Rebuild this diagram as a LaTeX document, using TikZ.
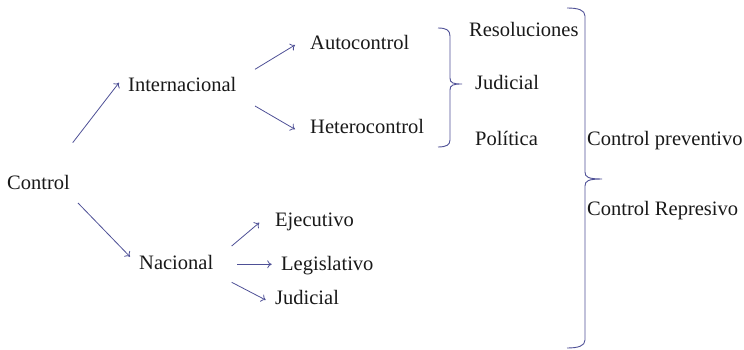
\documentclass[tikz,border=0pt]{standalone}
\usepackage{fontspec}
\usetikzlibrary{arrows.meta}
\setmainfont{Liberation Serif}
\begin{document}
\begin{tikzpicture}[x=1pt,y=-1pt,
  lbl/.style={anchor=base west,inner sep=0pt,font=\fontsize{20.5}{24}\selectfont,text=black!90},
  arr/.style={-{To[length=4.5pt,width=8pt]},draw=ink,line width=0.8pt},
  brc/.style={draw=ink,line width=0.9pt}]
\definecolor{ink}{RGB}{78,80,150}
\useasboundingbox (0,0) rectangle (744,350);
\node[lbl] (ctrl) at (7,189) {Control};
\node[lbl] (int) at (128,92) {Internacional};
\node[lbl] (auto) at (310,50) {Autocontrol};
\node[lbl] (het) at (310,134) {Heterocontrol};
\node[lbl] (res) at (469,37) {Resoluciones};
\node[lbl] (jud1) at (475,90) {Judicial};
\node[lbl] (pol) at (475,146) {Política};
\node[lbl] (cprev) at (587,146) {Control preventivo};
\node[lbl] (nac) at (139,269) {Nacional};
\node[lbl] (eje) at (275,226) {Ejecutivo};
\node[lbl] (leg) at (281,270) {Legislativo};
\node[lbl] (jud2) at (275,304) {Judicial};
\node[lbl] (crep) at (587,215) {Control Represivo};
% arrows
\draw[arr] ([shift={(65.7,-46.3)}]ctrl.base west) -- ([shift={(-9,-9.3)}]int.base west);
\draw[arr] ([shift={(71,14)}]ctrl.base west) -- ([shift={(-9,-12.3)}]nac.base west);
\draw[arr] ([shift={(127,-22.7)}]int.base west) -- ([shift={(-15,-5)}]auto.base west);
\draw[arr] ([shift={(127,14)}]int.base west) -- ([shift={(-15,-4.7)}]het.base west);
\draw[arr] ([shift={(92.7,-23)}]nac.base west) -- ([shift={(-15.7,-3.3)}]eje.base west);
\draw[arr] ([shift={(98,-4.7)}]nac.base west) -- ([shift={(-9.3,-5.7)}]leg.base west);
\draw[arr] ([shift={(92.7,13.3)}]nac.base west) -- ([shift={(-9.3,-4)}]jud2.base west);
% brace 1
\draw[brc] (438,28) .. controls (446,28) and (450,30) .. (450,36) -- (450,78)
  .. controls (450,83) and (453,84) .. (462,84)
  .. controls (453,84) and (450,85) .. (450,90) -- (450,140)
  .. controls (450,145) and (446,147) .. (438,147);
% brace 2
\draw[brc] (567,8) .. controls (578,8) and (585,10) .. (585,16) -- (585,172)
  .. controls (585,177) and (588,179) .. (602,179)
  .. controls (588,179) and (585,181) .. (585,186) -- (585,340)
  .. controls (585,346) and (578,348) .. (567,348);
\end{tikzpicture}
\end{document}
